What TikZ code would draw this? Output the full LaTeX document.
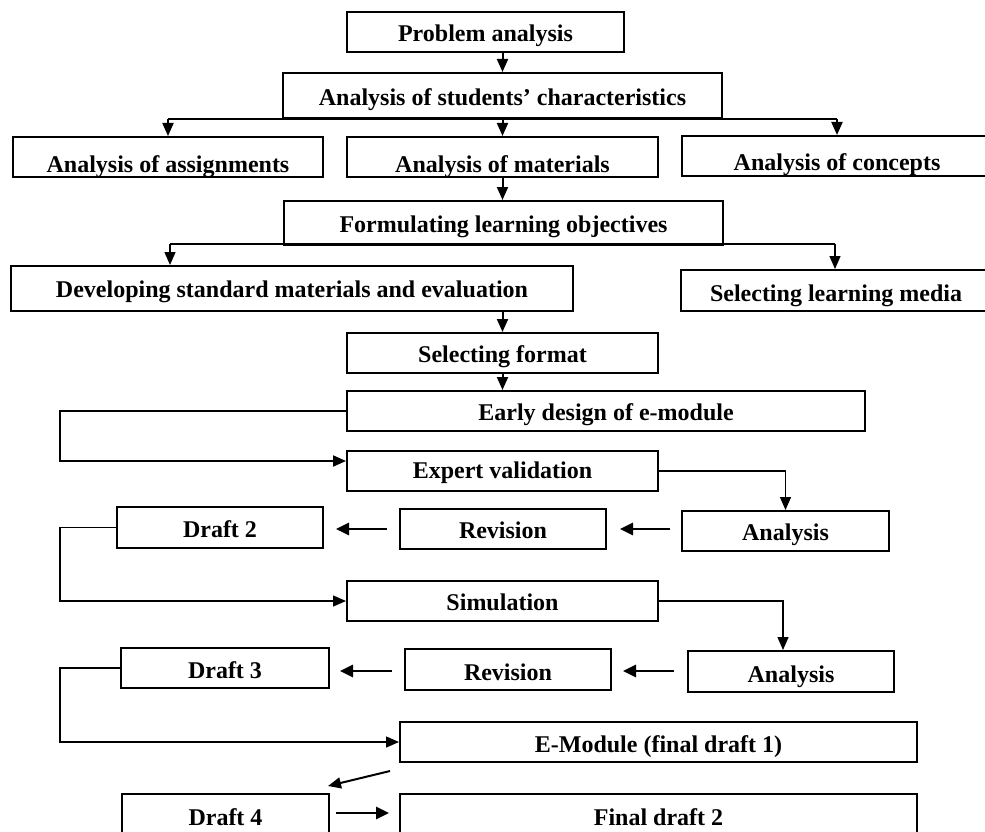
\documentclass[tikz,border=0pt]{standalone}
\usepackage{fontspec}
\setmainfont{Liberation Serif}
\usetikzlibrary{arrows.meta,calc}
\begin{document}
\begin{tikzpicture}[x=1pt,y=-1pt,
  box/.style={draw, line width=2pt, inner sep=0pt, font=\fontsize{24}{27}\selectfont\bfseries, text depth=0pt},
  conn/.style={line width=2pt},
  thinconn/.style={line width=1.1pt},
  arr/.style={line width=2pt, -{Triangle[length=13pt,width=11pt]}},
  hvarr/.style={line width=2.6pt, -{Triangle[length=13pt,width=12pt]}},
  thinarr/.style={line width=1.4pt, -{Triangle[length=13pt,width=11pt]}},
]
\clip (0,0) rectangle (985,832);
% boxes
\node[box, minimum width=277, minimum height=40, text height=20] (prob) at (485.5,32) {Problem analysis};
\node[box, minimum width=439, minimum height=45, text height=21] (stud) at (502.5,95.5) {Analysis of students’ characteristics};
\node[box, minimum width=310, minimum height=40, text height=30] (assign) at (168,157) {Analysis of assignments};
\node[box, minimum width=311, minimum height=40, text height=30] (mat) at (502.5,157) {Analysis of materials};
\node[box, minimum width=310, minimum height=40, text height=30] (conc) at (837,156) {Analysis of concepts};
\node[box, minimum width=439, minimum height=44, text height=18] (form) at (503.5,223) {Formulating learning objectives};
\node[box, minimum width=562, minimum height=45, text height=17] (dev) at (292,288.5) {Developing standard materials and evaluation};
\node[box, minimum width=310, minimum height=41, text height=21] (media) at (836,290.5) {Selecting learning media};
\node[box, minimum width=311, minimum height=40, text height=18] (fmt) at (502.5,353) {Selecting format};
\node[box, minimum width=518, minimum height=40, text height=18] (early) at (606,411) {Early design of e-module};
\node[box, minimum width=311, minimum height=40, text height=14] (expert) at (502.5,471) {Expert validation};
\node[box, minimum width=206, minimum height=41, text height=19] (d2) at (220,527.5) {Draft 2};
\node[box, minimum width=206, minimum height=40, text height=18] (rev1) at (503,529) {Revision};
\node[box, minimum width=207, minimum height=40, text height=18] (an1) at (785.5,531) {Analysis};
\node[box, minimum width=311, minimum height=40, text height=18] (sim) at (502.5,601) {Simulation};
\node[box, minimum width=208, minimum height=40, text height=20] (d3) at (225,668) {Draft 3};
\node[box, minimum width=206, minimum height=41, text height=21] (rev2) at (508,669.5) {Revision};
\node[box, minimum width=206, minimum height=41, text height=21] (an2) at (791,671.5) {Analysis};
\node[box, minimum width=517, minimum height=40, text height=20] (emod) at (658.5,742) {E-Module (final draft 1)};
\node[box, minimum width=207, minimum height=40, text height=22] (d4) at (225.5,814) {Draft 4};
\node[box, minimum width=517, minimum height=40, text height=22] (final) at (658.5,814) {Final draft 2};
% connectors
\draw[arr] (prob.south -| stud.north) -- (stud.north);
\draw[conn] (assign.north |- stud.south) -- (conc.north |- stud.south);
\draw[arr] (assign.north |- stud.south) -- (assign.north);
\draw[arr] (mat.north |- stud.south) -- (mat.north);
\draw[arr] (conc.north |- stud.south) -- (conc.north);
\draw[arr] (mat.south) -- (mat.south |- form.north);
\coordinate (fl) at (170,244);
\coordinate (fr) at (835,244);
\draw[thinconn] (fl) -- (fr);
\draw[thinarr] (fl) -- (fl |- dev.north);
\draw[thinarr] (fr) -- (fr |- media.north);
\draw[arr] (fmt.north |- dev.south) -- (fmt.north);
\draw[arr] (fmt.south) -- (fmt.south |- early.north);
\coordinate (L1) at (60,411);
\coordinate (L1b) at (60,461);
\draw[arr] (early.west) -- (L1) -- (L1b) -- (L1b -| expert.west);
\draw[thinarr] (expert.east) -| (an1.north);
\draw[hvarr] ($(an1.west)+(-11,-2)$) -- ($(rev1.east)+(13,0)$);
\draw[hvarr] ($(rev1.west)+(-12,0)$) -- ($(d2.east)+(12,1.5)$);
\coordinate (L2b) at (60,601);
\draw[thinarr] (d2.west) -| (L2b) -- (sim.west);
\coordinate (R2) at (783,601);
\draw[thinarr] (sim.east) -- (R2) -- (R2 |- an2.north);
\draw[hvarr] ($(an2.west)+(-13,-0.5)$) -- ($(rev2.east)+(11,1.5)$);
\draw[hvarr] ($(rev2.west)+(-12,1.5)$) -- ($(d3.east)+(10,3)$);
\coordinate (L3) at (60,742);
\draw[thinarr] (d3.west) -| (L3) -- (emod.west);
\draw[arr] ($(emod.south west)+(-9,8)$) -- ($(d4.north east)+(-2,-7)$);
\draw[hvarr] ($(d4.east)+(6,-1)$) -- ($(final.west)+(-10,-1)$);
\end{tikzpicture}
\end{document}
